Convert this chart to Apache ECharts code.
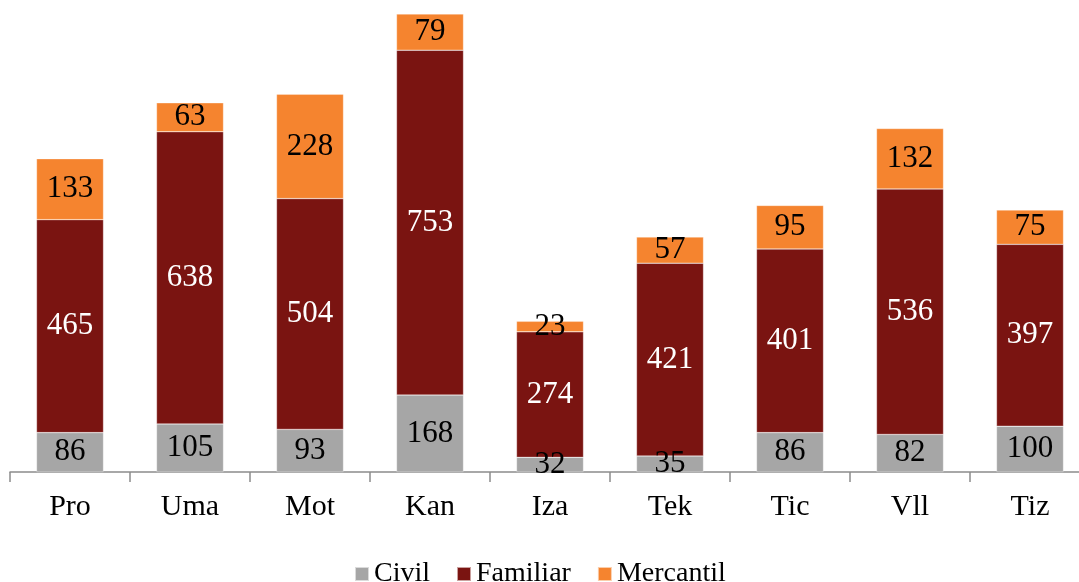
<!DOCTYPE html>
<html><head><meta charset="utf-8">
<script src="https://cdn.jsdelivr.net/npm/echarts@6/dist/echarts.min.js"></script>
<style>html,body{margin:0;padding:0;background:#fff;overflow:hidden}#c{width:1100px;height:582px}</style>
</head><body><div id="c"></div>
<script>
const categories = ['Pro','Uma','Mot','Kan','Iza','Tek','Tic','Vll','Tiz'];
const civil = [86,105,93,168,32,35,86,82,100];
const familiar = [465,638,504,753,274,421,401,536,397];
const mercantil = [133,63,228,79,23,57,95,132,75];
const seriesNames = ['Civil','Familiar','Mercantil'];

const font = '"Liberation Serif", "DejaVu Serif", serif';
const chart = echarts.init(document.getElementById('c'));
function mk(name, data, color, labelColor){
  return {
    name, type:'bar', stack:'t', data, barWidth:67,
    itemStyle:{color, borderColor:'rgba(255,255,255,0.6)', borderWidth:0.5},
    label:{show:true, position:'inside', color:labelColor, fontFamily:font, fontSize:31},
    emphasis:{disabled:true}
  };
}
chart.setOption({
  animation:false,
  textStyle:{fontFamily:font},
  grid:{left:10, right:10, top:14, bottom:110},
  legend:{
    data:seriesNames, left:349, top:555,
    itemWidth:14, itemHeight:14, itemGap:26, icon:'rect',
    textStyle:{fontFamily:font, fontSize:28, color:'#000'}
  },
  xAxis:{
    type:'category', data:categories,
    axisLine:{lineStyle:{color:'#8c8c8c', width:1.5}},
    axisTick:{show:true, length:10, lineStyle:{color:'#8c8c8c', width:1.5}},
    axisLabel:{fontFamily:font, fontSize:30, color:'#000', margin:20}
  },
  yAxis:{type:'value', min:0, max:1000, show:false, splitLine:{show:false}},
  series:[
    mk(seriesNames[0], civil, '#A6A6A6', '#000'),
    mk(seriesNames[1], familiar, '#7A1411', '#fff'),
    mk(seriesNames[2], mercantil, '#F5842F', '#000')
  ]
});
</script></body></html>
